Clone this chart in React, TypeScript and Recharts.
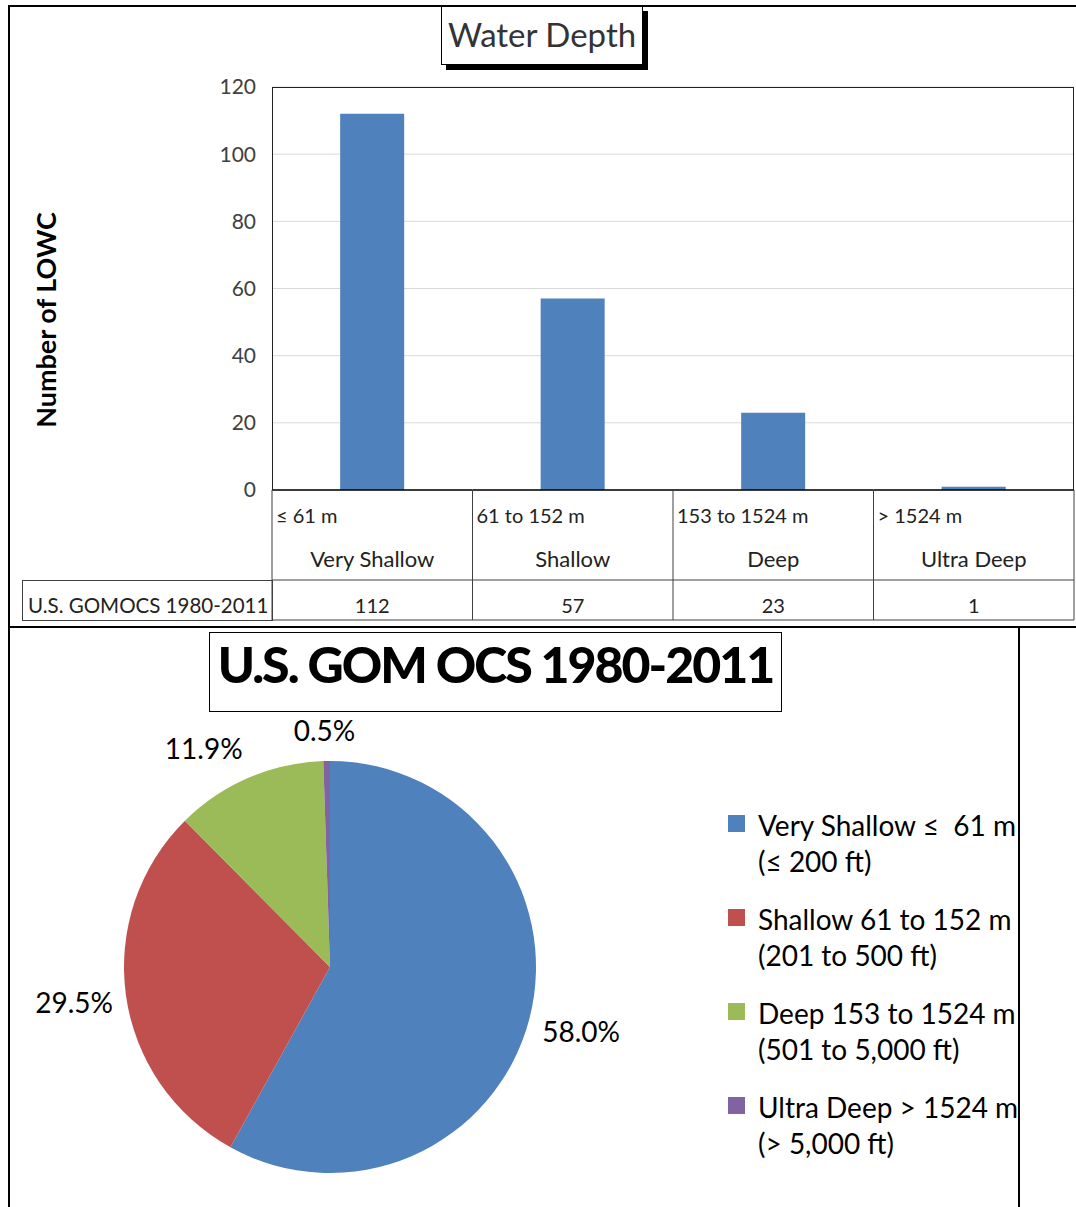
import { BarChart, Bar, XAxis, YAxis, CartesianGrid, PieChart, Pie, Cell, Legend } from "recharts";

const categories = ["Very Shallow", "Shallow", "Deep", "Ultra Deep"];
const depthRanges = ["≤ 61 m", "61 to 152 m", "153 to 1524 m", "> 1524 m"];
const lowcCounts = [112, 57, 23, 1];
const yTicks = [0, 20, 40, 60, 80, 100, 120];
const seriesName = "U.S. GOMOCS 1980-2011";
const legendLines = [
  ["Very Shallow ≤  61 m", "(≤ 200 ft)"],
  ["Shallow 61 to 152 m", "(201 to 500 ft)"],
  ["Deep 153 to 1524 m", "(501 to 5,000 ft)"],
  ["Ultra Deep > 1524 m", "(> 5,000 ft)"],
];
const sliceColors = ["#4F81BD", "#C0504D", "#9BBB59", "#8064A2"];

const barData = categories.map((category, i) => ({ category, value: lowcCounts[i] }));
const pieData = categories.map((name, i) => ({ name, value: lowcCounts[i] }));

const font = "Lato, 'Liberation Sans', sans-serif";
const lineColor = "#404040";
const RADIAN = Math.PI / 180;

// x-axis tick drawn as the Excel data table cell under each bar
const TableTick = (props: any) => {
  const { x, y, index, width, visibleTicksCount } = props;
  const bw = width / visibleTicksCount;
  const left = x - bw / 2;
  const right = x + bw / 2;
  return (
    <g fontFamily={font} fill="#222">
      <line x1={left} x2={right} y1={y} y2={y} stroke="#000" strokeWidth={1.5} />
      <line x1={left} x2={right} y1={y + 90} y2={y + 90} stroke={lineColor} />
      <line x1={left} x2={right} y1={y + 130} y2={y + 130} stroke={lineColor} />
      <line x1={left} x2={left} y1={y} y2={y + 130} stroke={lineColor} />
      {index === visibleTicksCount - 1 && (
        <line x1={right} x2={right} y1={y} y2={y + 130} stroke={lineColor} />
      )}
      <text x={left + 4} y={y + 25} dominantBaseline="central" fontSize={20}>
        {depthRanges[index]}
      </text>
      <text x={x} y={y + 68} dominantBaseline="central" textAnchor="middle" fontSize={22}>
        {categories[index]}
      </text>
      <text x={x} y={y + 115} dominantBaseline="central" textAnchor="middle" fontSize={20}>
        {lowcCounts[index]}
      </text>
    </g>
  );
};

// outside-end labels, pushed out so the text box clears the slice edge
const renderPercent = (props: any) => {
  const { cx, cy, midAngle, outerRadius, percent } = props;
  const c = Math.cos(-midAngle * RADIAN);
  const s = Math.sin(-midAngle * RADIAN);
  const r = outerRadius + 12;
  const dx = Math.sign(c) * Math.min(1, Math.abs(c) * 3) * 40;
  const dy = Math.sign(s) * Math.min(1, Math.abs(s) * 2) * 19;
  return (
    <text
      x={cx + r * c + dx}
      y={cy + r * s + dy}
      textAnchor="middle"
      dominantBaseline="central"
      fontSize={28}
      fontFamily={font}
      fill="#000"
    >
      {(percent * 100).toFixed(1)}%
    </text>
  );
};

const renderLegend = (props: any) => (
  <div style={{ fontFamily: font, color: "#000" }}>
    {(props.payload || []).map((entry: any, i: number) => (
      <div key={entry.value} style={{ position: "relative", height: 94, paddingLeft: 30 }}>
        <span
          style={{ position: "absolute", left: 0, top: 8, width: 17, height: 17, background: sliceColors[i] }}
        />
        <div style={{ fontSize: 28, lineHeight: "36px", whiteSpace: "pre" }}>{legendLines[i][0]}</div>
        <div style={{ fontSize: 28, lineHeight: "36px", whiteSpace: "pre" }}>{legendLines[i][1]}</div>
      </div>
    ))}
  </div>
);

export default function App() {
  return (
    <div
      style={{
        position: "absolute",
        left: 0,
        top: 0,
        width: 1076,
        height: 1207,
        background: "#fff",
        fontFamily: font,
        overflow: "hidden",
      }}
    >
      {/* top panel: bar chart with data table */}
      <div style={{ position: "absolute", left: 0, top: 0 }}>
        <BarChart
          width={1076}
          height={630}
          data={barData}
          margin={{ top: 87, right: 2, bottom: 10, left: 212 }}
          barCategoryGap="34%"
        >
          <CartesianGrid vertical={false} stroke="#d9d9d9" />
          <XAxis
            dataKey="category"
            height={130}
            axisLine={false}
            tickLine={false}
            tickSize={0}
            tickMargin={0}
            tick={<TableTick />}
            interval={0}
          />
          <YAxis
            width={60}
            domain={[0, 120]}
            ticks={yTicks}
            axisLine={false}
            tickLine={false}
            tickMargin={10}
            tick={{ fontSize: 21, fill: "#404040", fontFamily: font }}
          />
          <Bar dataKey="value" fill={sliceColors[0]} isAnimationActive={false} />
        </BarChart>
      </div>
      <div
        style={{
          position: "absolute",
          left: 272,
          top: 87,
          width: 802,
          height: 403,
          border: "1.5px solid #222",
          borderBottom: "none",
          boxSizing: "border-box",
          pointerEvents: "none",
        }}
      />
      <div
        style={{
          position: "absolute",
          left: 22,
          top: 580,
          width: 251,
          height: 41,
          border: `1px solid ${lineColor}`,
          boxSizing: "border-box",
          fontSize: 20.5,
          lineHeight: "49px",
          paddingLeft: 5,
          color: "#222",
          whiteSpace: "nowrap",
        }}
      >
        {seriesName}
      </div>
      <div
        style={{
          position: "absolute",
          left: 45,
          top: 320,
          transform: "translate(-50%, -50%) rotate(-90deg)",
          fontSize: 27,
          fontWeight: 700,
          whiteSpace: "nowrap",
          color: "#000",
        }}
      >
        Number of LOWC
      </div>

      {/* panel frames */}
      <div
        style={{
          position: "absolute",
          left: 8,
          top: 5,
          width: 1068,
          height: 623,
          borderLeft: "2px solid #000",
          borderTop: "2px solid #000",
          borderBottom: "2px solid #000",
          boxSizing: "border-box",
          pointerEvents: "none",
        }}
      />
      <div
        style={{
          position: "absolute",
          left: 8,
          top: 626,
          width: 1012,
          height: 600,
          borderLeft: "2px solid #000",
          borderRight: "2px solid #000",
          boxSizing: "border-box",
          pointerEvents: "none",
        }}
      />
      <div
        style={{
          position: "absolute",
          left: 441,
          top: 6,
          width: 202,
          height: 59,
          border: "1.5px solid #000",
          boxShadow: "5px 5px 0 #000",
          background: "#fff",
          boxSizing: "border-box",
          textAlign: "center",
          lineHeight: "54px",
          fontSize: 33,
          color: "#333",
          whiteSpace: "nowrap",
        }}
      >
        Water Depth
      </div>

      {/* bottom panel: pie chart */}
      <div style={{ position: "absolute", left: 8, top: 626 }}>
        <PieChart width={1010} height={581}>
          <Pie
            data={pieData}
            dataKey="value"
            nameKey="name"
            cx={317}
            cy={336}
            outerRadius={206}
            startAngle={90}
            endAngle={-270}
            stroke="none"
            label={renderPercent}
            labelLine={false}
            isAnimationActive={false}
          >
            {pieData.map((d, i) => (
              <Cell key={d.name} fill={sliceColors[i]} />
            ))}
          </Pie>
          <Legend
            layout="vertical"
            content={renderLegend}
            wrapperStyle={{ left: 720, top: 181, width: 330 }}
          />
        </PieChart>
      </div>
      <div
        style={{
          position: "absolute",
          left: 209,
          top: 632,
          width: 573,
          height: 80,
          border: "1.5px solid #000",
          background: "#fff",
          boxSizing: "border-box",
          textAlign: "center",
          lineHeight: "62px",
          fontSize: 50,
          fontWeight: 900,
          letterSpacing: -2,
          color: "#000",
          whiteSpace: "nowrap",
        }}
      >
        U.S. GOM OCS 1980-2011
      </div>
    </div>
  );
}
